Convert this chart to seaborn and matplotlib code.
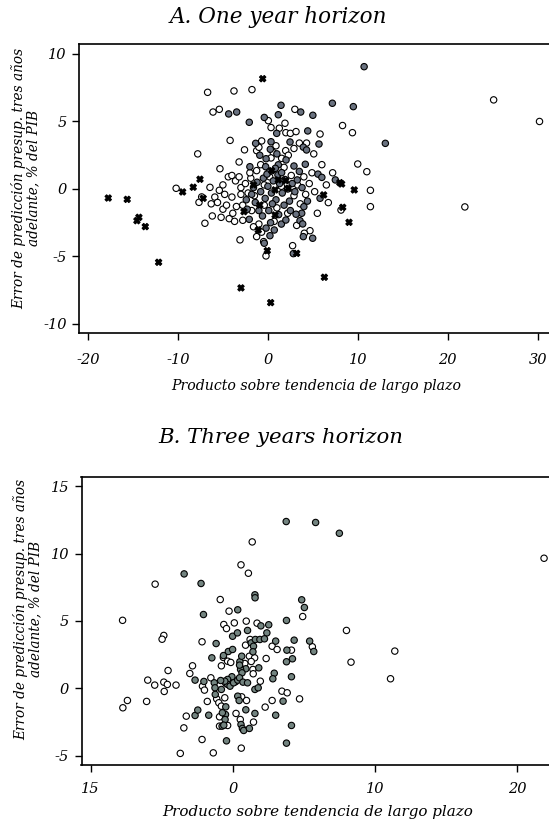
import numpy as np
import pandas as pd
import matplotlib
matplotlib.use("Agg")
import matplotlib.pyplot as plt
import seaborn as sns

# ---------------- data: panel A (one year horizon) ----------------
a_open_x = [-10.2, -7.8, -6.7, -3.77, -1.77, -6.1, -5.4, -4.2, -5.33, -3.2, -2.6, -1.25, 0.05, 0.35, 3.0,
            8.3, 9.4, 1.9, 1.27, 2.0, 2.5, 3.13, 5.8, 4.3, 3.5, -0.69, -1.25, -1.0, 0.6, 0.35, 1.98, 1.53,
            2.27, 9.99, 11.0, 11.4, 11.4, 8.13, 6.72, 4.68, 4.05, 2.75, -0.47, -0.21, -1.25, -3.1, -2.79,
            -6.18, -7.0, -6.44, -7.36, -7.66, 25.1, 30.2, 21.9,
            -5.9, -5.4, -5.0, -4.8, -5.0, -5.2, -5.6, -4.4, -4.0, -3.6, -3.2, -3.0, -3.0, -2.8, -3.5, -4.0,
            -4.3, -3.7, -2.2, -2.5, -1.9, -1.5, -1.8, -4.6, -3.9, -6.3, -2.0, -1.0, -0.7, -1.6,
            0.2, 1.5, 2.6, 2.9, 3.3, 4.0, 4.6, 4.2, 5.2, 3.6, 2.2, 1.0, -0.4, 0.7, 3.2, 5.5, 6.0, 7.2, 6.5,
            -0.8, 0.9, 2.9, 5.1, 4.9, -0.4, 1.8]
a_open_y = [0.05, 2.6, 7.16, 7.26, 7.36, 5.7, 5.9, 3.6, 1.5, 2.0, 2.9, 1.36, 5.06, 4.55, 5.9,
            4.7, 4.17, 4.87, 4.5, 4.17, 4.12, 4.25, 4.07, 3.4, 3.4, 3.56, 2.84, 3.09, 2.69, 2.3, 2.84, 2.27,
            2.5, 1.85, 1.28, -0.1, -1.31, -1.56, -1.01, -3.09, -3.28, -4.2, -3.9, -4.96, -3.53, -3.77, -2.32,
            -2.0, -2.54, 0.12, -0.59, -0.99, 6.6, 5.0, -1.33,
            -0.6, -0.1, 0.3, -0.4, -1.5, -2.1, -1.0, 0.9, 1.0, 0.6, 0.9, 0.1, -0.4, -1.2, -1.3, -0.6,
            -2.2, -2.4, -0.3, 0.4, 0.8, -0.5, -1.6, -1.2, -1.8, -1.1, 1.2, -2.6, -3.2, -2.8,
            0.9, 0.2, 1.0, -0.5, 0.3, 0.9, 0.4, -0.4, -0.2, -1.1, -1.8, -1.4, -1.2, -2.4, -2.7, -1.8, 1.8, 1.2, 0.3,
            1.8, 3.2, 3.0, 2.6, 1.2, 0.3, 1.6]

a_gray_x = [10.7, -4.36, -3.47, -2.07, 1.46, -0.4, 1.16, 3.65, 5.0, 7.17, 9.5, 13.06, 0.98, 4.43, 5.68,
            3.94, 4.3, -1.36, 0.35, 2.46, -0.2, 0.27, 1.16, 2.02, -2.0, -0.25, 0.16, 0.83, 1.12, 1.53,
            4.16, 3.27, 5.57, 6.0, 7.5, 5.8, 4.98, 3.94, 3.57, 3.87, 3.76, 4.0, 3.13, 2.83, 0.71, 0.23,
            -0.4, -2.07,
            -1.2, -0.8, -0.5, -0.3, 0.0, 0.4, 0.6, 0.9, 1.3, 1.6, 1.9, 2.2, 2.4, 2.7, 3.0, -1.4, -1.0,
            -0.6, 0.1, 0.5, 1.2, 1.8, 2.5, -1.8, -2.4, -2.3, -0.1, 1.0, -0.9, 2.9, 3.5, -1.6, 0.3, 1.5,
            -0.2, 2.0, 4.4, 3.8]
a_gray_y = [9.06, 5.56, 5.7, 4.94, 6.2, 5.3, 5.5, 5.7, 5.46, 6.35, 6.1, 3.38, 4.12, 4.3, 3.33,
            3.1, 2.89, 3.38, 3.5, 3.48, 2.24, 2.94, 1.79, 2.15, 1.65, 1.65, 1.28, 1.53, 1.04, 1.21,
            1.83, 0.67, 1.1, 0.86, 0.67, -0.69, -3.65, -3.53, -2.35, -2.59, -1.8, -1.31, -1.87, -4.79, -3.04, -3.46,
            -4.02, -2.25,
            0.5, -0.2, 0.8, -0.7, 0.2, -0.3, 0.6, -0.8, 0.4, -0.3, 0.7, 0.0, -0.9, 0.4, -0.2, -1.0, -1.6,
            -2.0, -1.6, -1.1, -1.9, -1.2, -1.6, -0.4, -0.8, -1.5, 1.1, 2.6, 2.5, 1.7, 1.3, 0.1, -2.5, -2.6,
            -2.9, -2.3, -0.9, 0.1]

a_x_x = [-0.58, -17.75, -15.64, -14.34, -14.56, -13.63, -12.15, -9.48, -8.3, -7.55, -7.19, -2.99, 0.31,
         6.28, -0.07, 3.2, -1.07, -2.66, 0.42, 1.98, 8.0, 8.2, 6.2, 8.32, 9.02, 9.6,
         -1.6, -0.9, 0.8, 2.27, 0.8, 1.16]
a_x_y = [8.17, -0.67, -0.77, -2.1, -2.35, -2.79, -5.43, -0.22, 0.13, 0.72, -0.69, -7.33, -8.42,
         -6.54, -4.57, -4.77, -3.04, -1.68, 1.36, 0.62, 0.47, 0.37, -0.44, -1.36, -2.47, -0.07,
         0.3, -1.19, -0.07, 0.05, -1.93, 0.67]

# ---------------- data: panel B (three years horizon) ----------------
b_open_x = [1.37, 21.9, 0.58, 1.1, -5.46, -0.88, -0.26, 4.92, -7.75, 8.0, -0.63, -0.44, 0.11, 0.95, 1.71,
            -4.85, -4.97, -2.16, -2.83, -3.02, -0.8, -0.66, -0.36, -0.14, 0.9, 1.22, 1.17, 1.54, 2.77, 3.12,
            4.13, 5.6, 2.35, 1.42, 1.44, 0.85, 1.94, 3.46, 3.83, 2.77, 4.7, 2.28, 0.6, -1.37, -3.69, -2.16,
            -3.44, -3.27, -1.79, -2.13, -1.99, -1.54, -1.13, -0.98, -0.56, -0.8, -0.93, -0.93, -0.36, 0.23,
            0.53, 1.46, 0.63, 0.97, 8.32, 11.4, 11.1, -7.73, -7.41, -5.98, -5.49, -6.06, -4.85, -4.82,
            -4.55, -4.6, -3.99, 0.2, -0.5, 1.3]
b_open_y = [10.86, 9.65, 9.16, 8.54, 7.73, 6.59, 5.73, 5.33, 5.05, 4.3, 4.74, 4.44, 4.86, 4.99, 4.84,
            3.93, 3.65, 3.46, 1.68, 1.11, 1.68, 2.3, 2.02, 1.93, 3.21, 3.63, 2.39, 2.27, 3.13, 2.89,
            2.84, 3.09, 2.22, 1.41, 1.09, 1.85, 0.54, -0.2, -0.32, -0.89, -0.77, -1.38, -4.42, -4.77, -4.81, -3.78,
            -2.92, -2.05, -0.96, 0.17, -0.12, 0.79, -0.77, -1.06, -0.69, -1.31, -2.1, -2.79, -2.74, -1.85,
            -2.3, -2.49, -0.62, -0.89, 1.95, 2.77, 0.72, -1.43, -0.89, 0.62, 0.25, -0.96, 0.47, -0.22,
            1.33, 0.3, 0.25, 0.5, 0.4, 2.0]

b_gray_x = [3.76, 5.83, 7.5, -3.42, -2.23, 1.56, 1.57, 4.85, 5.04, -2.06, 0.35, 3.78, 1.98, 2.53, -0.01,
            0.33, 1.04, 2.4, -1.17, -2.65, -1.47, -0.65, -0.31, -0.01, 1.3, 1.46, 1.59, 1.91, 2.23, 1.42,
            3.02, 3.81, 3.78, 4.2, 4.32, 5.41, 5.7, 1.83, 0.92, 0.55, 0.5, 0.63, 0.48, 0.65, -0.06, -0.36,
            -0.36, -0.56, -0.19, 0.06, 0.35, 0.48, 0.72, 1.04, 1.56, 1.79, 2.92, 2.82, 4.13, 3.54, 3.02,
            4.13, 3.78, -0.44, -2.65, -2.46, -1.69, -2.03, -1.3, -1.25, -1.23, -0.8, -0.85, -0.49, -0.51,
            -0.54, -0.73, -0.75, -0.63, 0.58, 0.68, 0.77, 0.92, 1.56, 1.17, 0.35, 0.45]
b_gray_y = [12.37, 12.3, 11.5, 8.49, 7.78, 6.94, 6.72, 6.57, 6.0, 5.48, 5.83, 5.04, 4.64, 4.72, 3.87,
            4.12, 4.3, 4.12, 3.33, 0.62, 2.27, 2.44, 2.74, 2.89, 3.38, 3.13, 3.63, 3.63, 3.68, 2.72,
            3.51, 2.84, 1.98, 2.2, 3.58, 3.51, 2.74, 1.53, 1.46, 1.41, 1.98, 2.39, 1.73, 1.16, 0.87, 0.67,
            0.3, 0.54, 0.17, 0.42, 0.62, 0.79, 0.47, 0.42, -0.07, 0.05, 1.13, 0.72, 0.87, -0.94, -1.98,
            -2.74, -4.05, -3.88, -2.0, -1.6, -1.98, 0.52, 0.42, 0.05, -0.44, -0.07, 0.59, -1.36, -1.93,
            -2.3, -1.8, -2.79, -2.72, -2.67, -2.96, -3.11, -1.58, -1.85, -2.96, -0.57, -0.89]

# ---------------- text ----------------
title_a = "A. One year horizon"
title_b = "B. Three years horizon"
xlabel = "Producto sobre tendencia de largo plazo"
ylabel = "Error de predicción presup. tres años\nadelante, % del PIB"
a_xticks = [-20, -10, 0, 10, 20, 30]
a_xticklabels = ["-20", "-10", "0", "10", "20", "30"]
a_yticks = [-10, -5, 0, 5, 10]
a_yticklabels = ["-10", "-5", "0", "5", "10"]
b_xticks = [-10, 0, 10, 20]
b_xticklabels = ["15", "0", "10", "20"]
b_yticks = [-5, 0, 5, 10, 15]
b_yticklabels = ["-5", "0", "5", "10", "15"]


def frame(ox, oy, gx, gy, xx=None, xy=None):
    parts = [pd.DataFrame({"x": ox, "y": oy, "g": "open"}),
             pd.DataFrame({"x": gx, "y": gy, "g": "gray"})]
    if xx is not None:
        parts.append(pd.DataFrame({"x": xx, "y": xy, "g": "cross"}))
    return pd.concat(parts, ignore_index=True)


df_a = frame(a_open_x, a_open_y, a_gray_x, a_gray_y, a_x_x, a_x_y)
df_b = frame(b_open_x, b_open_y, b_gray_x, b_gray_y)

sns.set_theme(style="white")
plt.rcParams["font.family"] = ["DejaVu Serif"]
plt.rcParams["font.style"] = "italic"
plt.rcParams["text.color"] = "black"
plt.rcParams["axes.labelcolor"] = "black"
plt.rcParams["xtick.color"] = "black"
plt.rcParams["ytick.color"] = "black"

W, H = 549, 824
fig = plt.figure(figsize=(W / 100, H / 100), dpi=100)

def px_axes(l, t, r, b):
    return fig.add_axes([l / W, 1 - b / H, (r - l) / W, (b - t) / H])

ax_a = px_axes(79, 44, 553, 333)
ax_b = px_axes(81.5, 477, 554, 765)

markers = {"open": "o", "gray": "o", "cross": "X"}

sns.scatterplot(data=df_a, x="x", y="y", hue="g", style="g", ax=ax_a,
                palette={"open": "white", "gray": "#6a7280", "cross": "black"},
                markers=markers, s=21, edgecolor="black", linewidth=0.8, legend=False, zorder=3)
sns.scatterplot(data=df_b, x="x", y="y", hue="g", style="g", ax=ax_b,
                palette={"open": "white", "gray": "#738480"},
                markers=markers, s=21, edgecolor="black", linewidth=0.8, legend=False, zorder=3)

ax_a.set_xlim(-21.0, 31.7)
ax_a.set_ylim(-10.67, 10.74)
ax_b.set_xlim(-10.64, 22.6)
ax_b.set_ylim(-5.67, 15.67)

for ax, xt, xtl, yt, ytl, xpad in [(ax_a, a_xticks, a_xticklabels, a_yticks, a_yticklabels, 9.5),
                                  (ax_b, b_xticks, b_xticklabels, b_yticks, b_yticklabels, 7)]:
    ax.set_xticks(xt)
    ax.set_xticklabels(xtl)
    ax.set_yticks(yt)
    ax.set_yticklabels(ytl)
    ax.tick_params(axis="both", which="both", direction="out", length=5, width=1.0,
                   color="black", labelsize=10.5, labelcolor="black")
    ax.tick_params(axis="x", pad=xpad, bottom=True)
    ax.tick_params(axis="y", pad=4, left=True)
    for side in ["left", "bottom", "top"]:
        ax.spines[side].set_visible(True)
        ax.spines[side].set_color("black")
        ax.spines[side].set_linewidth(1.2)
    ax.spines["right"].set_visible(False)
    ax.set_facecolor("white")
    ax.grid(False)
    ax.set_ylabel(ylabel, fontsize=9.8, style="italic", linespacing=0.95, color="black")

ax_a.set_xlabel(xlabel, fontsize=10.2, style="italic", color="black")
ax_b.set_xlabel(xlabel, fontsize=10.9, style="italic", color="black")

ax_a.xaxis.set_label_coords((316 - 79) / 474, -(379 - 333) / 289)
ax_b.xaxis.set_label_coords((317.5 - 81.5) / 472.5, -(805 - 765) / 288)
ax_a.yaxis.set_label_coords(-(79 - 40) / 474, (333 - 178) / 289)
ax_b.yaxis.set_label_coords(-(81.5 - 42) / 472.5, (765 - 609) / 288)

fig.text(278.5 / W, 1 - 17 / H, title_a, ha="center", va="center", fontsize=15.5,
         style="italic", color="black")
fig.text(280.5 / W, 1 - 437 / H, title_b, ha="center", va="center", fontsize=15.3,
         style="italic", color="black")

fig.savefig("out.png", dpi=100, facecolor="white")
